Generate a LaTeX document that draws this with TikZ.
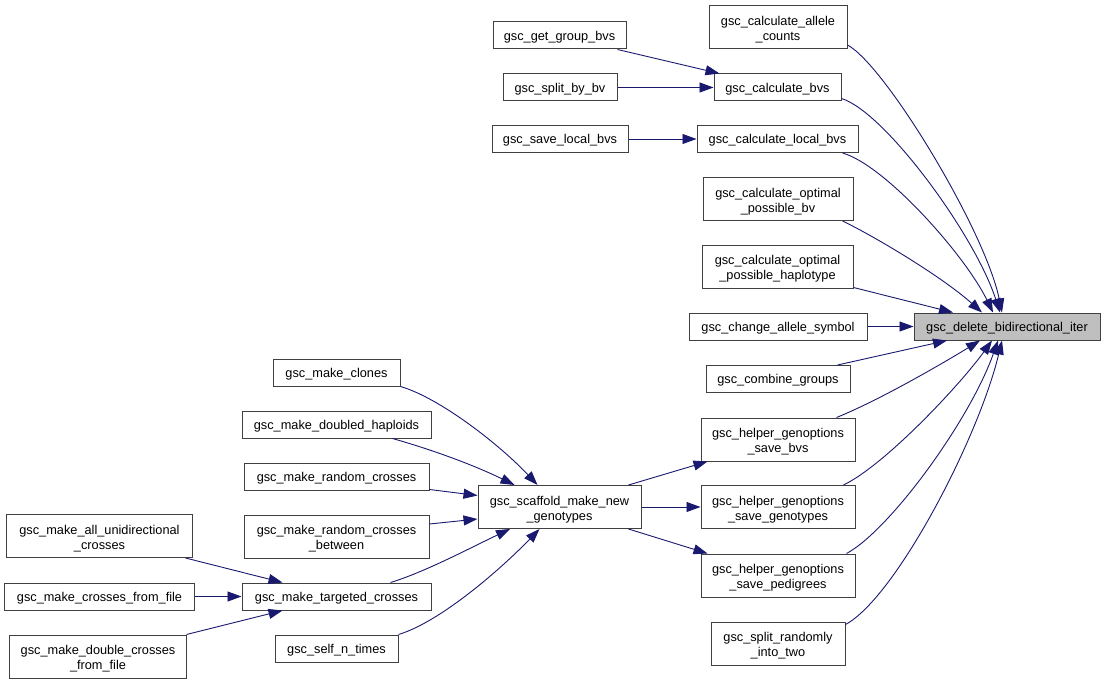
\documentclass[tikz,border=0pt]{standalone}
\usepackage{fontspec}
\setmainfont{Liberation Sans}
\usetikzlibrary{arrows.meta}
\definecolor{edgecol}{HTML}{191970}
\definecolor{bordercol}{HTML}{404040}
\definecolor{hilite}{HTML}{BFBFBF}
\tikzset{
  box/.style={draw=bordercol, line width=1bp, fill=white, inner sep=0pt, align=center,
    font=\fontsize{12.8}{15}\selectfont},
  one/.style={minimum height=27bp, execute at begin node={\rule{0pt}{12.5bp}}},
  two/.style={minimum height=43bp, execute at begin node={\rule{0pt}{29bp}}},
  edge/.style={draw=edgecol, line width=0.9bp, -{Triangle[length=14bp,width=10bp]}},
}
\begin{document}
\begin{tikzpicture}[x=1bp,y=-1bp]
\useasboundingbox (0,0) rectangle (1105,684);
\fill[white] (0,0) rectangle (1105,684);

% right column
\node[box,two,minimum width=138bp] (allele) at (778,27) {gsc\_calculate\_allele\\\_counts};
\node[box,one,minimum width=133bp] (getgroup) at (559.5,35.5) {gsc\_get\_group\_bvs};
\node[box,one,minimum width=127bp] (calcbvs) at (777.5,87.5) {gsc\_calculate\_bvs};
\node[box,one,minimum width=114bp] (splitbv) at (560,87.5) {gsc\_split\_by\_bv};
\node[box,one,minimum width=136bp] (savelocal) at (560,139) {gsc\_save\_local\_bvs};
\node[box,one,minimum width=161bp] (calclocal) at (777.5,139) {gsc\_calculate\_local\_bvs};
\node[box,two,minimum width=150bp] (optbv) at (778,199) {gsc\_calculate\_optimal\\\_possible\_bv};
\node[box,two,minimum width=151bp] (opthap) at (777.5,266.5) {gsc\_calculate\_optimal\\\_possible\_haplotype};
\node[box,one,minimum width=178bp] (changesym) at (778,326.5) {gsc\_change\_allele\_symbol};
\node[box,one,minimum width=186bp,fill=hilite] (delete) at (1007,326.5) {gsc\_delete\_bidirectional\_iter};
\node[box,one,minimum width=144bp] (combine) at (778,379) {gsc\_combine\_groups};
\node[box,two,minimum width=154bp] (savebvs) at (778,439.5) {gsc\_helper\_genoptions\\\_save\_bvs};
\node[box,two,minimum width=154bp] (savegeno) at (778,507) {gsc\_helper\_genoptions\\\_save\_genotypes};
\node[box,two,minimum width=154bp] (saveped) at (778,575.5) {gsc\_helper\_genoptions\\\_save\_pedigrees};
\node[box,two,minimum width=134bp] (splitrand) at (778,643.5) {gsc\_split\_randomly\\\_into\_two};

% middle / left
\node[box,one,minimum width=127bp] (clones) at (336.5,372.5) {gsc\_make\_clones};
\node[box,one,minimum width=189bp] (doubled) at (336.5,424.5) {gsc\_make\_doubled\_haploids};
\node[box,one,minimum width=185bp] (randcross) at (336.5,476.5) {gsc\_make\_random\_crosses};
\node[box,two,minimum width=185bp] (randbetween) at (336.5,536.5) {gsc\_make\_random\_crosses\\\_between};
\node[box,two,minimum width=163bp] (scaffold) at (559.5,507) {gsc\_scaffold\_make\_new\\\_genotypes};
\node[box,one,minimum width=189bp] (targeted) at (336.5,596.5) {gsc\_make\_targeted\_crosses};
\node[box,one,minimum width=123bp] (selfn) at (336.5,648.5) {gsc\_self\_n\_times};
\node[box,two,minimum width=185bp] (allunidir) at (99.5,536) {gsc\_make\_all\_unidirectional\\\_crosses};
\node[box,one,minimum width=189bp] (crossfile) at (99.5,596.5) {gsc\_make\_crosses\_from\_file};
\node[box,two,minimum width=176bp] (doublecross) at (98,656.5) {gsc\_make\_double\_crosses\\\_from\_file};

% edges into delete
\draw[edge] ([yshift=4bp]allele.south east) .. controls (885,65) and (985,230) .. ([xshift=-5bp]delete.north);
\draw[edge] ([yshift=3bp]calcbvs.south east) .. controls (885,112) and (975,235) .. ([xshift=-7bp]delete.north);
\draw[edge] ([xshift=-16bp]calclocal.south east) .. controls (885,165) and (965,255) .. ([xshift=-14bp]delete.north);
\draw[edge] ([xshift=-11bp]optbv.south east) .. controls (870,234) and (940,275) .. ([xshift=-25bp]delete.north);
\draw[edge] ([yshift=1bp]opthap.south east) -- ([xshift=-54bp]delete.north);
\draw[edge] (changesym.east) -- (delete.west);
\draw[edge] ([xshift=-13bp]combine.north east) -- ([xshift=-60bp]delete.south);
\draw[edge] ([xshift=-19bp]savebvs.north east) .. controls (880,400) and (945,362) .. ([xshift=-27bp]delete.south);
\draw[edge] ([xshift=-12bp]savegeno.north east) .. controls (885,465) and (960,385) .. ([xshift=-15bp]delete.south);
\draw[edge] ([xshift=-9bp]saveped.north east) .. controls (890,530) and (970,420) .. ([xshift=-9bp]delete.south);
\draw[edge] ([yshift=-3bp]splitrand.north east) .. controls (895,598) and (978,440) .. ([xshift=-5bp]delete.south);

% upper small edges
\draw[edge] ([xshift=-9bp]getgroup.south east) -- ([xshift=6bp]calcbvs.north west);
\draw[edge] (splitbv.east) -- (calcbvs.west);
\draw[edge] (savelocal.east) -- (calclocal.west);

% scaffold outputs
\draw[edge] ([xshift=-13bp]scaffold.north east) -- ([xshift=7bp]savebvs.south west);
\draw[edge] (scaffold.east) -- (savegeno.west);
\draw[edge] ([xshift=-13bp]scaffold.south east) -- ([xshift=7bp]saveped.north west);

% scaffold inputs
\draw[edge] (clones.south east) .. controls (440,398) and (500,445) .. ([xshift=-22bp]scaffold.north);
\draw[edge] ([xshift=-39bp]doubled.south east) .. controls (440,452) and (480,468) .. ([xshift=37bp]scaffold.north west);
\draw[edge] ([yshift=1bp]randcross.south east) -- ([yshift=-10.5bp]scaffold.north west);
\draw[edge] ([yshift=12.5bp]randbetween.east) -- ([yshift=-12bp]scaffold.west);
\draw[edge] ([xshift=-41bp]targeted.north east) .. controls (425,572) and (470,548) .. ([xshift=-49.5bp]scaffold.south);
\draw[edge] (selfn.north east) .. controls (440,622) and (500,570) .. ([xshift=-20bp]scaffold.south);

% targeted inputs
\draw[edge] ([xshift=-7bp]allunidir.south east) -- ([xshift=41bp]targeted.north west);
\draw[edge] (crossfile.east) -- (targeted.west);
\draw[edge] (doublecross.north east) -- ([xshift=41bp]targeted.south west);
\end{tikzpicture}
\end{document}
